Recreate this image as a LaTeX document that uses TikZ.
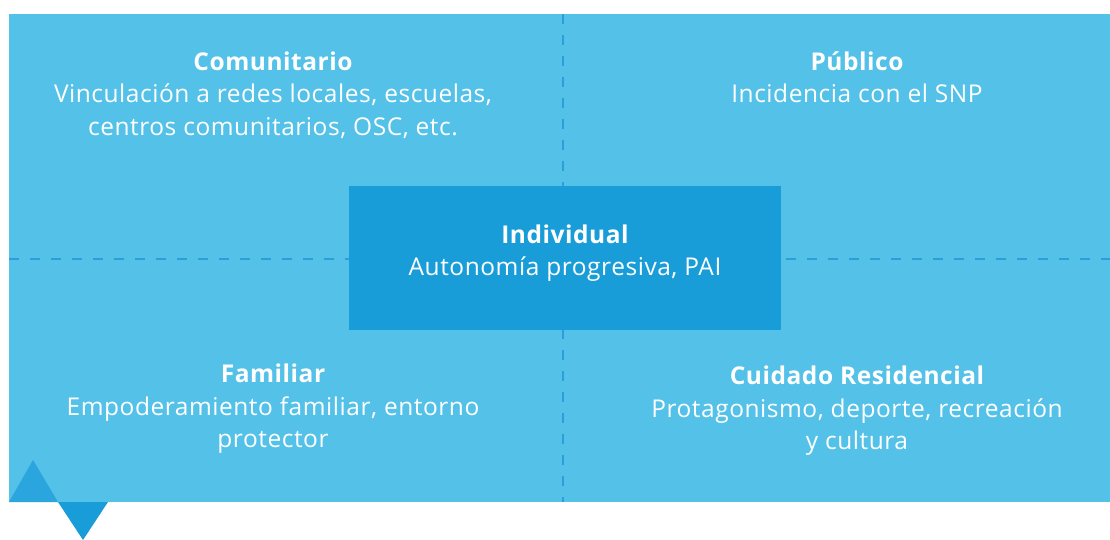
\documentclass[tikz,border=0pt]{standalone}
\usepackage{fontspec}
\setmainfont[LetterSpace=2.2]{Open Sans}
\usetikzlibrary{positioning}
\definecolor{fondo}{HTML}{53C1E8}
\definecolor{central}{HTML}{189DD8}
\definecolor{linea}{HTML}{2A9FDA}
\definecolor{punta}{HTML}{2BA5DE}

\begin{document}
\begin{tikzpicture}[x=1pt, y=-1pt,
    bloque/.style={text=white, font=\fontsize{24.5}{32.5}\selectfont, align=center, inner sep=0pt},
    guia/.style={linea, line width=2pt, dash pattern=on 10pt off 11pt}]
        \useasboundingbox (0,0) rectangle (1110,540);

        % Fondo
        \fill[fondo] (9,14) rectangle (1110,502);

        % Triángulos de la esquina
        \fill[punta] (9,502) -- (33,460) -- (58,502) -- cycle;
        \fill[central] (58,502) -- (108,502) -- (83,540) -- cycle;

        % Ejes punteados
        \coordinate (arriba) at (563,14);
        \coordinate (abajo) at (563,502);
        \coordinate (izq) at (9,259);
        \coordinate (der) at (1110,259);
        \draw[guia] (arriba) -- (abajo);
        \draw[guia] (izq) -- (der);

        % Nivel individual
        \node[bloque, fill=central, minimum width=432pt, minimum height=144pt] (indiv) at (565,258) {};
        \node[bloque] (indivtxt) at (565,253)
            {{\bfseries Individual}\\Autonomía progresiva, PAI};

        % Cuadrantes
        \node[bloque] (comu) at (273,95)
            {{\bfseries Comunitario}\\Vinculación a redes locales, escuelas,\\centros comunitarios, OSC, etc.};
        \node[bloque] (pub) at (857,77)
            {{\bfseries Público}\\Incidencia con el SNP};
        \node[bloque] (fam) at (273,409)
            {{\bfseries Familiar}\\Empoderamiento familiar, entorno\\protector};
        \node[bloque] (resid) at (857,411)
            {{\bfseries Cuidado Residencial}\\Protagonismo, deporte, recreación\\y cultura};

    \end{tikzpicture}
\end{document}
